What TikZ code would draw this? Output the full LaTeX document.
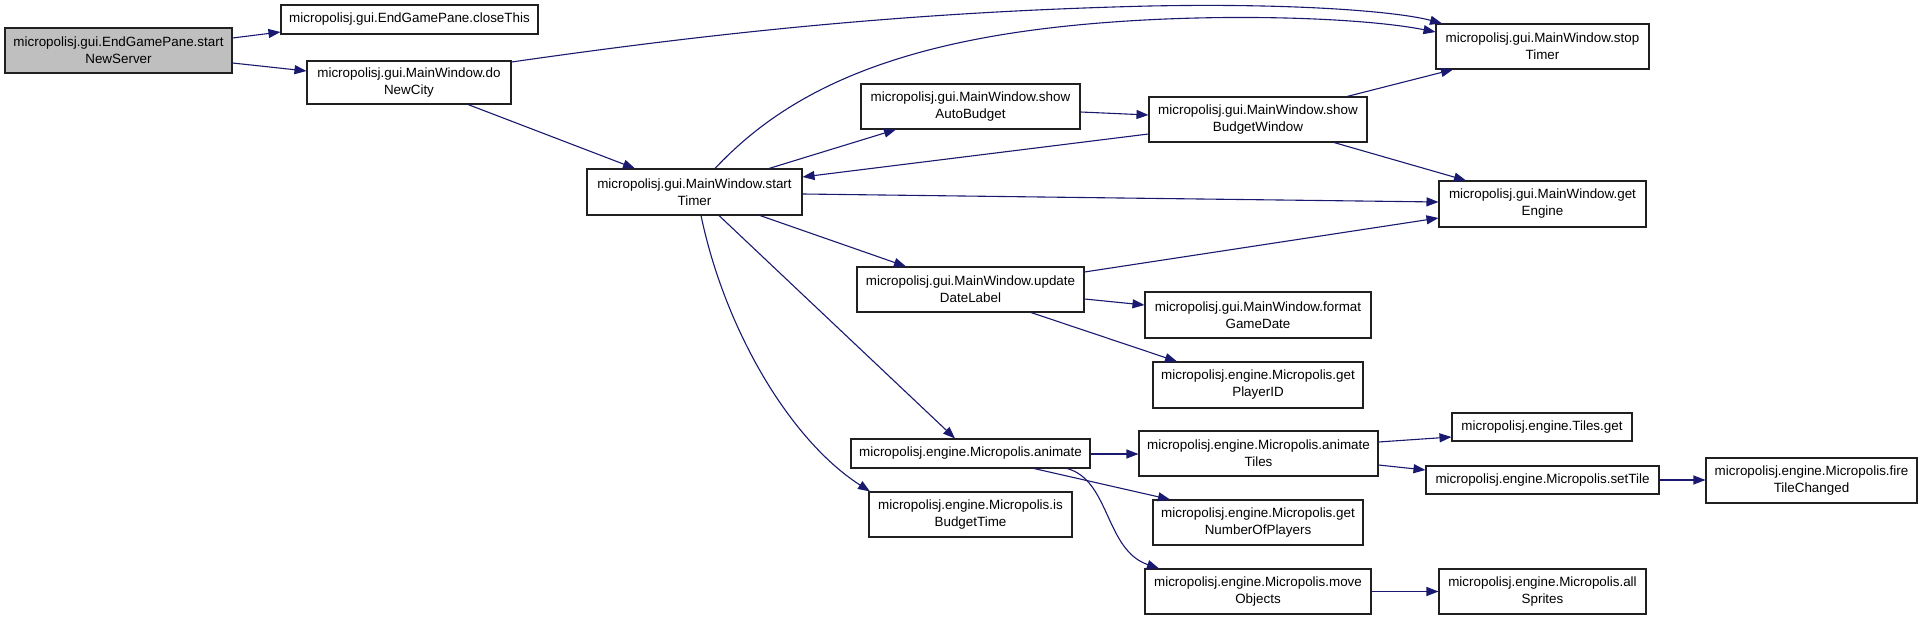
\documentclass[tikz,border=0pt]{standalone}
\usepackage{fontspec}
\setmainfont{Liberation Sans}
\usetikzlibrary{arrows.meta}
\definecolor{edgec}{HTML}{191970}
\definecolor{startfill}{HTML}{BFBFBF}
\definecolor{bordc}{HTML}{202020}
\tikzset{
  fn/.style={draw=bordc, line width=1.05pt, fill=white, inner sep=0pt, align=center,
    font=\fontsize{13.4}{17}\selectfont},
  ed/.style={draw=edgec, line width=1.1pt, -{Triangle[length=12pt,width=9pt]}, fill=none}
}
\begin{document}
\begin{tikzpicture}[x=1pt,y=-1pt]
\fill[white] (0,0) rectangle (1923,620);
\useasboundingbox (0,0) rectangle (1923,620);
% nodes
\node[fn, fill=startfill, minimum width=227pt, minimum height=45pt] (A) at (118.5,50.5) {micropolisj.gui.EndGamePane.start\\NewServer};
\node[fn, minimum width=257pt, minimum height=29pt] (B) at (409.5,19.5) {micropolisj.gui.EndGamePane.closeThis};
\node[fn, minimum width=204pt, minimum height=43pt] (C) at (409,82.5) {micropolisj.gui.MainWindow.do\\NewCity};
\node[fn, minimum width=215pt, minimum height=46pt] (D) at (694.5,192) {micropolisj.gui.MainWindow.start\\Timer};
\node[fn, minimum width=219pt, minimum height=45pt] (E) at (970.5,106.5) {micropolisj.gui.MainWindow.show\\AutoBudget};
\node[fn, minimum width=213pt, minimum height=45pt] (F) at (1542.5,46.5) {micropolisj.gui.MainWindow.stop\\Timer};
\node[fn, minimum width=218pt, minimum height=45pt] (G) at (1258,119.5) {micropolisj.gui.MainWindow.show\\BudgetWindow};
\node[fn, minimum width=207pt, minimum height=46pt] (H) at (1542.5,204) {micropolisj.gui.MainWindow.get\\Engine};
\node[fn, minimum width=227pt, minimum height=45pt] (I) at (970.5,289.5) {micropolisj.gui.MainWindow.update\\DateLabel};
\node[fn, minimum width=226pt, minimum height=46pt] (J) at (1258,315) {micropolisj.gui.MainWindow.format\\GameDate};
\node[fn, minimum width=210pt, minimum height=46pt] (K) at (1258,385) {micropolisj.engine.Micropolis.get\\PlayerID};
\node[fn, minimum width=239pt, minimum height=29pt] (L) at (970.5,453.5) {micropolisj.engine.Micropolis.animate};
\node[fn, minimum width=203pt, minimum height=45pt] (M) at (970.5,514.5) {micropolisj.engine.Micropolis.is\\BudgetTime};
\node[fn, minimum width=239pt, minimum height=45pt] (N) at (1258.5,453.5) {micropolisj.engine.Micropolis.animate\\Tiles};
\node[fn, minimum width=210pt, minimum height=45pt] (O) at (1258,522.5) {micropolisj.engine.Micropolis.get\\NumberOfPlayers};
\node[fn, minimum width=226pt, minimum height=45pt] (P) at (1258,591.5) {micropolisj.engine.Micropolis.move\\Objects};
\node[fn, minimum width=180pt, minimum height=28pt] (Q) at (1542,427) {micropolisj.engine.Tiles.get};
\node[fn, minimum width=233pt, minimum height=28pt] (R) at (1542.5,480) {micropolisj.engine.Micropolis.setTile};
\node[fn, minimum width=211pt, minimum height=45pt] (S) at (1811.5,480.5) {micropolisj.engine.Micropolis.fire\\TileChanged};
\node[fn, minimum width=207pt, minimum height=45pt] (T) at (1542.5,591.5) {micropolisj.engine.Micropolis.all\\Sprites};
% edges
\draw[ed] (A.east |- 0,38) -- (B.west |- 0,32);
\draw[ed] (A.east |- 0,63) -- (C.west |- 0,71);
\draw[ed] (C.east |- 0,62) .. controls (700,35) and (900,12) .. (1150,6) .. controls (1300,3) and (1400,12) .. (F.north -| 1442,0);
\draw[ed] (C.south -| 468,0) -- (D.north -| 635,0);
\draw[ed] (D.north -| 715,0) .. controls (770,110) and (850,60) .. (1000,35) .. controls (1150,10) and (1350,15) .. (F.west |- 0,32);
\draw[ed] (D.north -| 769,0) -- (E.south -| 896,0);
\draw[ed] (E.east |- 0,112) -- (G.west |- 0,115);
\draw[ed] (G.west |- 0,134) -- (D.east |- 0,177);
\draw[ed] (G.north -| 1347,0) -- (F.south -| 1453,0);
\draw[ed] (G.south -| 1334,0) -- (H.north -| 1466,0);
\draw[ed] (D.east |- 0,194) -- (H.west |- 0,202);
\draw[ed] (I.east |- 0,272) -- (H.west |- 0,218);
\draw[ed] (I.east |- 0,299) -- (J.west |- 0,305);
\draw[ed] (I.south -| 1031,0) -- (K.north -| 1177,0);
\draw[ed] (D.south -| 760,0) -- (I.north -| 906,0);
\draw[ed] (D.south -| 719,0) -- (L.north -| 955,0);
\draw[ed] (D.south -| 701,0) .. controls (725,330) and (790,440) .. (M.north -| 870,0);
\draw[ed] (L.east |- 0,454) -- (N.west |- 0,454);
\draw[ed] (L.south -| 1034,0) -- (O.north -| 1170,0);
\draw[ed] (L.south -| 1067,0) .. controls (1110,480) and (1105,550) .. (P.north -| 1159,0);
\draw[ed] (N.east |- 0,442) -- (Q.west |- 0,437);
\draw[ed] (N.east |- 0,465) -- (R.west |- 0,470);
\draw[ed] (R.east) -- (S.west |- 0,480);
\draw[ed] (P.east) -- (T.west);
\end{tikzpicture}
\end{document}
